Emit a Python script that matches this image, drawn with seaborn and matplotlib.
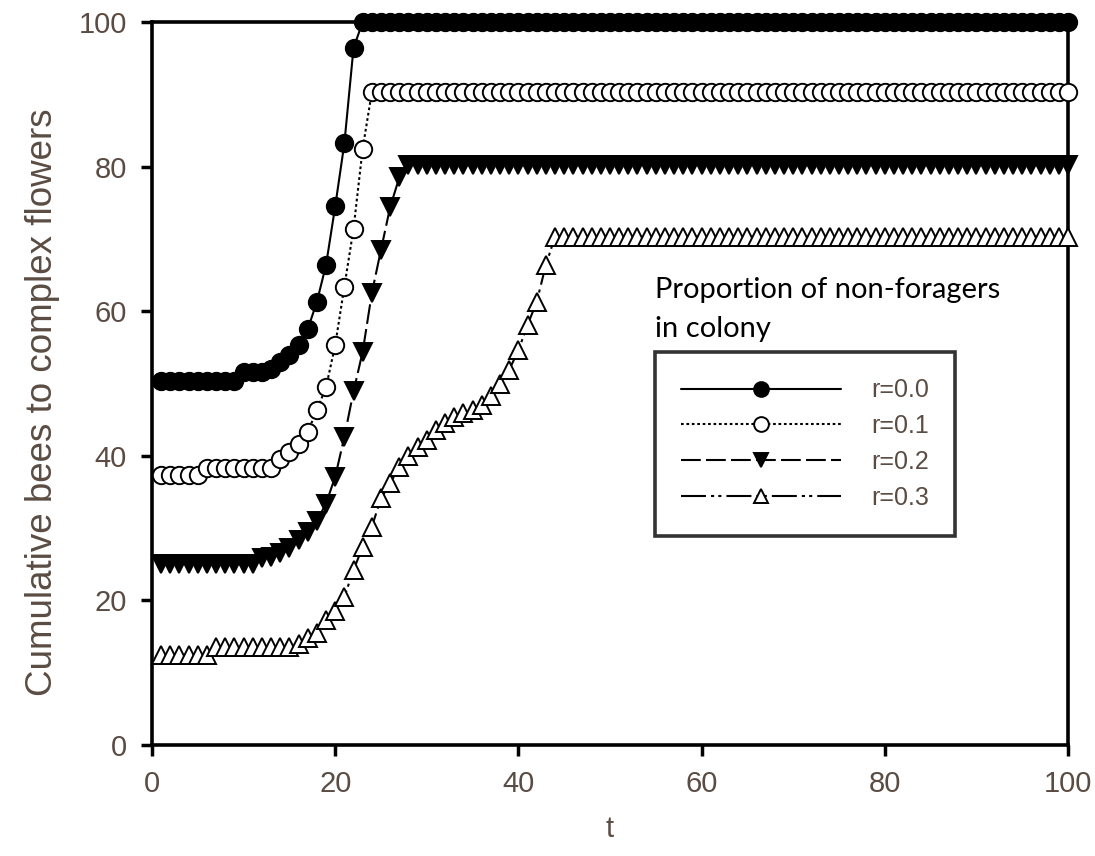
import matplotlib
matplotlib.use("Agg")
import matplotlib.pyplot as plt
import seaborn as sns
import pandas as pd

# ---------------- data ----------------
t = list(range(1, 101))

r00 = ([50.3] * 9 + [51.6] * 3 +
       [52.0, 53.0, 54.0, 55.3, 57.5, 61.3, 66.4, 74.5, 83.2, 96.4] +
       [100.0] * 78)
r01 = ([37.3] * 5 + [38.3] * 8 +
       [39.5, 40.5, 41.7, 43.3, 46.3, 49.5, 55.3, 63.4, 71.4, 82.5] +
       [90.3] * 77)
r02 = ([25.0] * 11 +
       [25.8, 26.0, 26.5, 27.3, 28.3, 29.5, 31.0, 33.4, 37.1, 42.6, 48.9,
        54.4, 62.5, 68.5, 74.4, 78.5] +
       [80.2] * 73)
r03 = ([12.4] * 6 + [13.6] * 9 +
       [14.0, 14.8, 15.5, 17.3, 18.5, 20.5, 24.2, 27.4, 30.2, 34.1, 36.2,
        38.5, 40.0, 41.2, 42.2, 43.5, 44.5, 45.4, 45.9, 46.3, 47.0, 48.3,
        50.0, 51.9, 54.6, 58.1, 61.3, 66.4] +
       [70.3] * 57)

series_labels = ["r=0.0", "r=0.1", "r=0.2", "r=0.3"]
x_ticks = [0, 20, 40, 60, 80, 100]
y_ticks = [0, 20, 40, 60, 80, 100]
x_label = "t"
y_label = "Cumulative bees to complex flowers"
legend_title = "Proportion of non-foragers\nin colony"

df = pd.DataFrame({"t": t * 4,
                   "value": r00 + r01 + r02 + r03,
                   "series": sum([[s] * len(t) for s in series_labels], [])})

# ---------------- style ----------------
sns.set_style("white")
plt.rcParams["font.family"] = ["Liberation Sans", "DejaVu Sans"]
txt_col = "#5a4c42"

fig = plt.figure(figsize=(10.95, 8.56), dpi=100)
ax = fig.add_axes([152 / 1095, 1 - 745 / 856, (1068 - 152) / 1095, (745 - 22) / 856])

styles = {
    "r=0.0": dict(linestyle="-", marker="o", markerfacecolor="black"),
    "r=0.1": dict(linestyle=(0, (1.3, 1.3)), marker="o", markerfacecolor="white"),
    "r=0.2": dict(linestyle=(0, (9.5, 2.5)), marker="v", markerfacecolor="black"),
    "r=0.3": dict(linestyle=(0, (12, 2.4, 1.5, 2, 1.5, 2.4)), marker="^", markerfacecolor="white"),
}

for s in series_labels:
    sub = df[df["series"] == s]
    sns.lineplot(data=sub, x="t", y="value", ax=ax, color="black",
                 linewidth=1.5, markersize=12.5, markeredgecolor="black",
                 markeredgewidth=1.4, label=s, clip_on=False, zorder=3,
                 **styles[s])

ax.set_xlim(0, 100)
ax.set_ylim(0, 100)
ax.set_xticks(x_ticks)
ax.set_yticks(y_ticks)
ax.tick_params(axis="both", which="major", direction="out", length=8, width=2.5,
               labelsize=21, labelcolor=txt_col, color="black", pad=10,
               left=True, bottom=True)
for sp in ax.spines.values():
    sp.set_linewidth(2.6)
    sp.set_color("black")

ax.set_xlabel(x_label, fontsize=21, color=txt_col, labelpad=12)
ax.set_ylabel(y_label, fontsize=26.5, color=txt_col)
ax.yaxis.set_label_coords(-0.100, 0.474, transform=ax.transAxes)

leg = ax.legend(loc="upper left", bbox_to_anchor=(655 / 1095, 1 - 352 / 856),
                bbox_transform=fig.transFigure, borderaxespad=0,
                frameon=True, fancybox=False, fontsize=18, handlelength=6.4,
                handletextpad=1.2, labelspacing=0.47, borderpad=1.05,
                numpoints=1, markerscale=0.85)
leg.get_frame().set_edgecolor("black")
leg.get_frame().set_linewidth(2.6)
for txt in leg.get_texts():
    txt.set_color(txt_col)

fig.text(655 / 1095, 1 - 277 / 856, legend_title, ha="left", va="top",
         fontsize=21, color="black", family=["Lato", "DejaVu Sans"],
         linespacing=1.6)

fig.savefig("out.png", dpi=100)
